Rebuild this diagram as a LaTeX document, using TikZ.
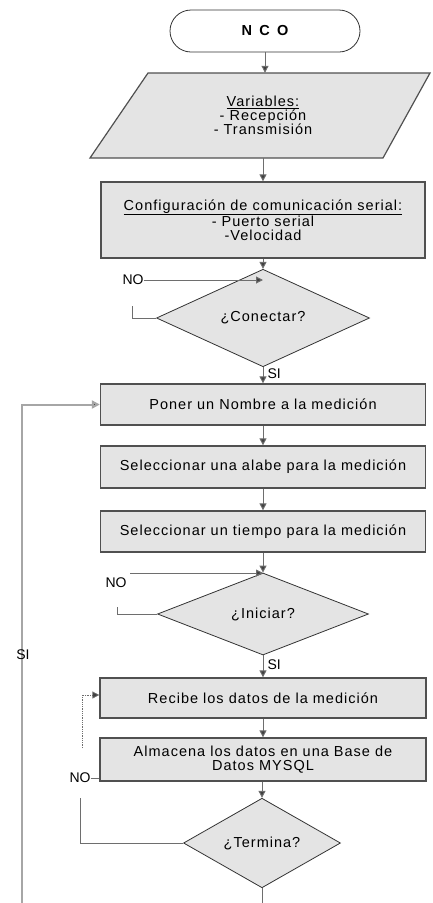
\documentclass[tikz,border=0pt]{standalone}
\usepackage{fontspec}
\setmainfont{Liberation Sans}
\usetikzlibrary{shapes.geometric,arrows.meta}
\definecolor{boxfill}{HTML}{E4E4E4}
\definecolor{boxline}{HTML}{505050}
\definecolor{wire}{HTML}{6E6E6E}
\tikzset{
  txt/.style={font=\fontsize{14.5}{14}\selectfont\addfontfeature{LetterSpace=7}, align=center, inner sep=0pt},
  procbox/.style={txt, rectangle, draw=boxline, line width=1.3pt, fill=boxfill},
  decision/.style={txt, diamond, draw=black!80, line width=0.8pt, fill=boxfill},
  termbox/.style={rectangle, rounded corners=21pt, draw=black!80, line width=0.8pt, fill=white,
     minimum width=190pt, minimum height=42pt, font=\bfseries\fontsize{14.5}{14}\selectfont},
  flow/.style={draw=wire, line width=1pt, -{Triangle[width=7pt,length=7pt,fill=black!75]}},
  plain/.style={draw=wire, line width=1pt},
  lbl/.style={font=\fontsize{14}{14}\selectfont, inner sep=0pt},
  back/.style={draw=black!35, line width=2pt, -{Triangle[width=8pt,length=8pt,fill=black!75]}},
}
\begin{document}
\begin{tikzpicture}[x=1pt,y=1pt]
\useasboundingbox (0,0) rectangle (432,-903);

% start
\node[termbox] (start) at (265,-31) {N\enspace C\enspace O};

% variables (parallelogram)
\draw[draw=boxline, line width=1.2pt, fill=boxfill] (90,-158) -- (148,-73) -- (430,-73) -- (383,-158) -- cycle;
\node[txt, minimum height=85pt, minimum width=230pt] (vars) at (263,-115.5)
  {\underline{Variables:}\\- Recepción\\- Transmisión};

% configuration
\node[procbox, minimum width=324pt, minimum height=76pt] (config) at (263,-220)
  {\underline{Configuración de comunicación serial:}\\- Puerto serial\\-Velocidad};

% decision: conectar
\node[decision, minimum width=213pt, minimum height=80pt] (conectar) at (263,-318) {¿Conectar?};

% process boxes
\node[procbox, minimum width=325pt, minimum height=41pt] (poner) at (263,-404.5) {Poner un Nombre a la medición};
\node[procbox, minimum width=325pt, minimum height=42pt] (alabe) at (263,-467) {Seleccionar una alabe para la medición};
\node[procbox, minimum width=325pt, minimum height=41pt] (tiempo) at (263,-531.5) {Seleccionar un tiempo para la medición};

% decision: iniciar
\node[decision, minimum width=211pt, minimum height=82pt] (iniciar) at (263,-614) {¿Iniciar?};

\node[procbox, minimum width=326pt, minimum height=40pt] (recibe) at (263,-698) {Recibe los datos de la medición};
\node[procbox, minimum width=326pt, minimum height=43pt] (almacena) at (263,-759.5)
  {Almacena los datos en una Base de\\Datos MYSQL};

% decision: termina
\node[decision, minimum width=157pt, minimum height=87pt] (termina) at (262,-843) {¿Termina?};

% main flow
\draw[flow] (start.south) -- (start.south |- vars.north);
\draw[flow] (vars.south) -- (config.north);
\draw[flow] (config.south) -- (conectar.north);
\draw[flow] (conectar.south) -- node[lbl, right=4pt, pos=0.4] (si1) {SI} (poner.north);
\draw[flow] (poner.south) -- (alabe.north);
\draw[flow] (alabe.south) -- (tiempo.north);
\draw[flow] (tiempo.south) -- (iniciar.north);
\draw[flow] (iniciar.south) -- node[lbl, right=4pt, pos=0.4] (si2) {SI} (recibe.north);
\draw[flow] (recibe.south) -- (almacena.north);
\draw[flow] (almacena.south -| termina.north) -- (termina.north);

% NO loop: conectar
\node[lbl] (no1) at (133,-280) {NO};
\draw[flow] (no1.east) -- (no1.east -| conectar.north);
\draw[plain] (conectar.west) -- ++(-24,0) -- ++(0,12);

% NO loop: iniciar
\node[lbl] (no2) at (116,-583) {NO};
\coordinate (n2s) at (130,-573);
\draw[flow] (n2s) -- (n2s -| iniciar.north);
\draw[plain] (iniciar.west) -- ++(-40,0) -- ++(0,7);

% dotted return into recibe
\coordinate (d1) at (82,-748);
\draw[draw=wire, line width=0.8pt, densely dotted, -{Triangle[width=7pt,length=7pt,fill=black!75]}] (d1) |- ([yshift=3pt]recibe.west);

% NO loop: termina
\node[lbl] (no3) at (80,-778) {NO};
\draw[plain] (no3.east) -- (no3.east -| almacena.west);
\draw[plain] (termina.west) -- ++(-103,0) -- ++(0,45);

% SI loop back to poner
\coordinate (b1) at (22,-903);
\coordinate (b2) at (262,-903);
\draw[back] (b1) |- (poner.west);
\draw[plain] (termina.south) -- (b2);
\node[lbl] (si3) at (23,-655) {SI};

\end{tikzpicture}
\end{document}
